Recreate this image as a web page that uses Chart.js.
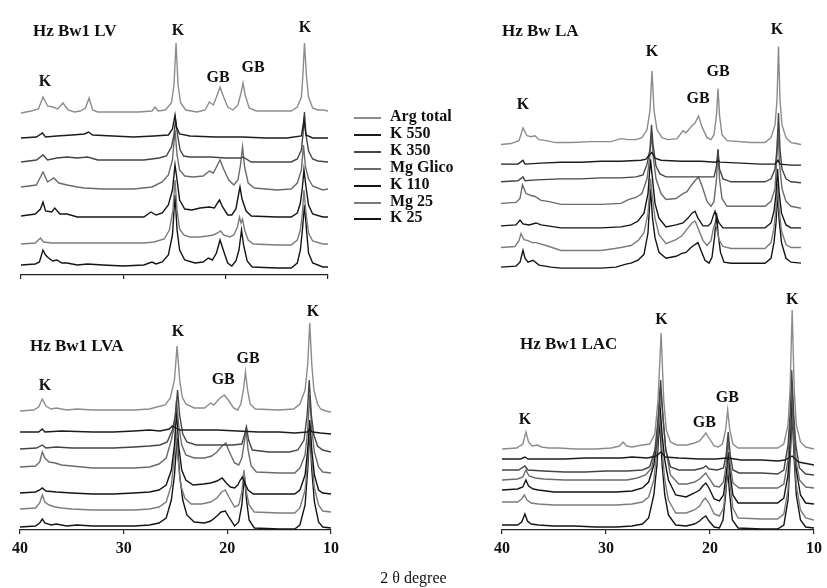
<!DOCTYPE html>
<html>
<head>
<meta charset="utf-8">
<script src="https://cdn.jsdelivr.net/npm/chart.js@4.4.1/dist/chart.umd.min.js"></script>
<style>
  html, body { margin: 0; padding: 0; background: #fff; }
  #wrap { position: relative; width: 827px; height: 588px; overflow: hidden; background: #fff; }
  canvas { position: absolute; }
  .leg { position: absolute; font: bold 16px "Liberation Serif", "DejaVu Serif", serif; color: #111; }
  .legline { position: absolute; height: 0; border-top: 2px solid #333; }
  #xtitle { position: absolute; left: 0; width: 827px; top: 569px; text-align: center; font: 16px "Liberation Serif", serif; color: #111; }
</style>
</head>
<body>
<div id="wrap">
  <canvas id="tl" width="345" height="290" style="left:0px;top:0px"></canvas>
  <canvas id="tr" width="407" height="290" style="left:420px;top:0px"></canvas>
  <canvas id="bl" width="345" height="298" style="left:0px;top:290px"></canvas>
  <canvas id="br" width="407" height="298" style="left:420px;top:290px"></canvas>
  <div id="legend"></div>
  <div id="xtitle">2 θ degree</div>
</div>
<script>
// ---------- series names / colours ----------
const seriesNames = ['Arg total', 'K 550', 'K 350', 'Mg Glico', 'K 110', 'Mg 25', 'K 25'];
const seriesColors = ['#8c8c8c', '#1c1c1c', '#454545', '#6a6a6a', '#141414', '#7c7c7c', '#141414'];
const xTicks = [40, 30, 20, 10];

// ---------- Hz Bw1 LV (top left) : [2θ, offset intensity] ----------
const tlArg = [[40,162],[39,164],[38.3,166],[37.85,178],[37.4,169],[36.9,168],[36.4,166],[35.9,172],[35.4,165],[34.8,163],[34.2,164],[33.7,167],[33.35,177],[33.0,165],[32.5,163],[30,163],[28.5,163],[27.2,164],[26.9,168],[26.6,164],[25.9,165],[25.3,172],[25.05,190],[24.85,232],[24.65,190],[24.4,172],[23.9,165],[22.8,163],[22.0,165],[21.6,173],[21.2,170],[20.9,178],[20.55,188],[20.2,178],[19.8,168],[19.3,165],[18.8,170],[18.5,182],[18.3,192],[18.1,180],[17.7,167],[17.0,164],[15,164],[13.6,164],[13.0,168],[12.6,178],[12.45,200],[12.3,232],[12.1,198],[11.9,178],[11.5,167],[11,165],[10.4,165],[10,164]];
const tlK550 = [[40,137],[38.5,138],[37.9,142],[37.6,138],[36.5,139],[35,140],[33.8,141],[33.4,143],[33,140],[31,139],[29,138],[27,139],[25.6,140],[25.2,146],[24.95,160],[24.8,148],[24.5,141],[23.5,139],[21,138],[19,138],[18.4,138],[16,137],[14,137],[12.6,139],[12.35,155],[12.15,140],[11.5,137],[10,137]];
const tlK350 = [[40,113],[38.5,115],[37.85,120],[37.4,115],[36.5,117],[35.5,118],[34.5,117],[33.5,118],[32.5,115],[30,115],[28,115],[26.5,117],[25.8,119],[25.3,128],[25.05,140],[24.9,155],[24.7,140],[24.45,125],[24.1,119],[23.5,118],[21.5,118],[20,117],[18.5,117],[18.3,118],[17.5,113],[15,113],[13.6,113],[13.0,116],[12.6,125],[12.45,140],[12.3,163],[12.15,140],[11.9,124],[11.5,116],[11,114],[10,113]];
const tlGlico = [[40,88],[38.5,90],[37.85,103],[37.4,93],[36.8,97],[36.3,92],[35.5,90],[34.5,88],[33.8,87],[32,86],[29,86],[27.2,88],[26.2,93],[25.6,100],[25.2,115],[24.95,145],[24.75,120],[24.5,105],[24.0,99],[23.2,98],[22.2,99],[21.6,104],[21.2,102],[20.9,108],[20.55,115],[20.2,106],[19.7,95],[19.2,90],[18.8,95],[18.55,110],[18.35,128],[18.15,108],[17.8,92],[17.2,87],[15,85],[13.6,86],[13.0,92],[12.6,105],[12.4,130],[12.2,108],[11.9,96],[11.5,89],[11,87],[10.5,85],[10,86]];
const tlK110 = [[40,59],[38.6,61],[38.1,66],[37.85,73],[37.6,64],[37.0,63],[36.7,67],[36.2,61],[35.5,61],[34.5,58],[33,58],[30,58],[28,58],[27.3,63],[26.8,60],[26.2,62],[25.6,70],[25.2,85],[24.95,110],[24.75,95],[24.5,75],[24.0,66],[23.3,65],[22.5,67],[21.6,68],[21.1,67],[20.8,72],[20.6,75],[20.3,68],[19.8,60],[19.4,60],[19.0,66],[18.75,80],[18.6,88],[18.4,76],[18.0,64],[17.5,59],[15,58],[13.6,58],[13.0,62],[12.7,72],[12.5,88],[12.35,105],[12.15,88],[11.9,70],[11.5,61],[10.5,58],[10,58]];
const tlMg25 = [[40,31],[38.6,32],[38.1,37],[37.8,33],[37,32],[35,32],[32,32],[30,32],[28,32],[27,33],[26,36],[25.5,45],[25.15,65],[24.95,95],[24.75,65],[24.5,46],[24.1,40],[23.5,38],[22.5,38],[21.8,39],[21.2,40],[20.8,42],[20.5,44],[20.2,40],[19.6,38],[19.2,40],[18.85,48],[18.65,58],[18.5,52],[18.35,56],[18.15,45],[17.8,35],[17.3,31],[15,30],[13.6,30],[13.0,35],[12.7,45],[12.5,62],[12.35,85],[12.15,62],[11.9,42],[11.5,34],[10.5,31],[10,31]];
const tlK25 = [[40,10],[38.6,11],[38.2,13],[37.85,25],[37.6,20],[37.3,17],[36.9,14],[36.5,15],[36,12],[35.5,12],[34.5,10],[33.5,11],[32,10],[30,9],[28,10],[27.2,13],[26.8,11],[26.2,13],[25.6,20],[25.2,40],[24.95,80],[24.75,45],[24.5,25],[24,15],[23,12],[22.2,13],[21.7,17],[21.3,15],[20.9,22],[20.55,35],[20.2,24],[19.8,12],[19.4,9],[19,14],[18.7,25],[18.45,45],[18.25,30],[17.9,14],[17.4,8],[15,7],[13.6,7],[13.0,12],[12.7,25],[12.5,45],[12.3,70],[12.1,45],[11.9,22],[11.5,12],[10.5,8],[10,8]];

// ---------- Hz Bw LA (top right) ----------
const trArg = [[40,130],[39,131],[38.2,134],[37.8,147],[37.4,139],[37.0,138],[36.6,139],[36.2,135],[35.5,134],[34.5,132],[33,132],[31,133],[29,133],[28,136],[27.3,135],[26.5,135],[25.9,137],[25.4,145],[25.1,165],[24.9,205],[24.7,165],[24.4,145],[23.9,137],[23.3,135],[22.4,136],[21.8,144],[21.5,142],[21.0,148],[20.6,152],[20.25,159],[19.9,148],[19.4,137],[19.0,135],[18.7,140],[18.45,160],[18.3,187],[18.15,160],[17.9,140],[17.4,134],[15,132],[13.6,132],[13.0,137],[12.6,150],[12.4,175],[12.25,230],[12.1,175],[11.9,150],[11.5,137],[11,132],[10.5,131],[10,130]];
const trK550 = [[40,110],[38.3,110],[37.8,114],[37.6,110],[36,111],[34,112],[32,112],[30,113],[28,113],[26,114],[25.5,115],[25.2,119],[24.9,122],[24.6,116],[24,114],[22,113],[20,113],[18.5,112],[18.3,114],[18.1,112],[16,111],[14,110],[12.6,110],[12.3,114],[12.1,110],[11,109],[10,109]];
const trK350 = [[40,92],[38.3,93],[37.8,97],[37.6,93],[36.5,94],[34,95],[32,95],[30,96],[28,96],[26.5,97],[25.8,99],[25.4,110],[25.1,125],[24.95,150],[24.8,130],[24.5,108],[24.1,100],[23.5,97],[21,97],[19.5,97],[18.7,97],[18.45,108],[18.3,125],[18.15,105],[17.8,95],[17,92],[15,92],[13.6,92],[13.0,95],[12.6,105],[12.4,125],[12.25,162],[12.1,125],[11.9,105],[11.5,95],[11,92],[10,91]];
const trGlico = [[40,70],[38.5,71],[38.1,75],[37.85,89],[37.5,80],[37.0,78],[36.6,77],[36.0,73],[35.3,72],[34,69],[32,69],[30,69],[28,70],[27.2,74],[26.5,76],[25.9,80],[25.4,95],[25.15,115],[24.95,140],[24.75,115],[24.5,95],[24.0,80],[23.5,74],[22.5,75],[21.8,80],[21.4,82],[21.0,88],[20.6,93],[20.25,97],[19.9,88],[19.4,72],[19.0,67],[18.7,72],[18.45,95],[18.3,125],[18.15,95],[17.9,75],[17.4,67],[15,67],[13.6,67],[13.0,72],[12.6,85],[12.45,110],[12.3,145],[12.15,110],[11.9,85],[11.5,72],[11,67],[10.5,66],[10,65]];
const trK110 = [[40,47],[38.5,48],[38.1,53],[37.8,49],[37.2,48],[36.5,50],[36,48],[34,45],[32,45],[30,45],[28,46],[27,48],[26.3,52],[25.7,60],[25.3,80],[25.05,115],[24.85,95],[24.6,70],[24.2,55],[23.5,46],[22.5,48],[21.8,50],[21.3,55],[20.9,60],[20.6,62],[20.3,55],[19.8,47],[19.3,47],[19.0,50],[18.75,58],[18.6,62],[18.45,57],[18.2,50],[17.8,45],[15,45],[13.6,45],[13.0,50],[12.7,62],[12.5,80],[12.35,105],[12.2,82],[11.95,60],[11.5,48],[11,45],[10,45]];
const trMg25 = [[40,25],[38.6,26],[38.2,32],[38.0,39],[37.7,33],[37.3,32],[36.9,30],[36.5,30],[35.5,27],[34,22],[32,22],[30,22],[28.6,24],[28,25],[27,27],[26.3,32],[25.7,40],[25.3,60],[25.05,95],[24.85,75],[24.6,55],[24.2,38],[23.5,29],[22.5,33],[21.9,37],[21.3,45],[20.9,50],[20.6,52],[20.3,45],[19.8,32],[19.4,27],[19.0,32],[18.75,45],[18.6,50],[18.45,45],[18.2,33],[17.8,26],[17,24],[15,24],[13.6,24],[13.0,30],[12.7,45],[12.5,65],[12.35,90],[12.2,65],[11.95,42],[11.5,28],[11,25],[10,25]];
const trK25 = [[40,5],[38.5,6],[38.1,10],[37.8,22],[37.6,14],[37.3,10],[36.8,12],[36.2,7],[35,5],[34,4],[32,4],[30,4],[28.5,5],[27.5,8],[27,9],[26.3,12],[25.7,18],[25.3,40],[25.05,85],[24.85,55],[24.6,35],[24.2,20],[23.5,14],[22.5,16],[21.9,19],[21.5,20],[21.0,25],[20.6,28],[20.3,30],[20.0,22],[19.6,12],[19.2,9],[18.9,15],[18.65,35],[18.45,60],[18.3,40],[18.05,20],[17.7,10],[17,9],[15,9],[13.6,9],[13.0,14],[12.7,30],[12.5,50],[12.35,80],[12.2,55],[11.95,30],[11.5,14],[11,10],[10,9]];

// ---------- Hz Bw1 LVA (bottom left) ----------
const blArg = [[40,119],[38.7,120],[38.2,123],[37.85,131],[37.5,124],[37.0,121],[36.5,122],[35.5,120],[34.5,121],[33,120],[31,120],[29,120],[27.5,121],[26.8,123],[26,125],[25.5,132],[25.1,150],[24.85,184],[24.6,150],[24.35,133],[24.0,126],[23.2,122],[22.2,122],[21.6,127],[21.3,125],[20.8,131],[20.3,135],[19.9,130],[19.4,122],[19.0,120],[18.7,126],[18.45,140],[18.25,158],[18.05,140],[17.8,126],[17.3,121],[15,120],[13.6,121],[13.0,126],[12.5,140],[12.25,165],[12.05,207],[11.85,165],[11.65,140],[11.3,126],[11,121],[10.5,119],[10,118]];
const blK550 = [[40,98],[38.2,98],[37.85,101],[37.6,98],[36,99],[33,98],[31,98],[29,99],[27.5,100],[26.5,99],[25.6,101],[25.3,104],[25.0,102],[24.6,100],[23,100],[21,100],[19,99],[17,98],[15,98],[13.5,97],[12.3,98],[12.05,101],[11.8,98],[11,97],[10,96]];
const blK350 = [[40,81],[38.4,82],[37.85,85],[37.5,82],[36.5,83],[35,82],[33,82],[31,82],[29,83],[27.5,84],[26.5,85],[25.8,88],[25.3,100],[25.0,115],[24.8,140],[24.6,115],[24.3,96],[23.9,88],[23,85],[21,85],[19.5,85],[18.6,86],[18.35,95],[18.15,103],[17.95,90],[17.6,80],[16,78],[14,78],[13.2,80],[12.6,90],[12.3,115],[12.1,150],[11.9,115],[11.65,95],[11.3,84],[10.8,80],[10,78]];
const blGlico = [[40,63],[38.5,64],[38.1,68],[37.85,78],[37.6,72],[37.2,68],[36.6,67],[36,65],[35,64],[33,62],[31,62],[29,62],[27.5,63],[26.6,66],[25.9,72],[25.4,90],[25.1,105],[24.9,130],[24.7,105],[24.4,85],[24.0,75],[23.2,72],[22.2,72],[21.5,74],[21.0,78],[20.6,83],[20.15,87],[19.8,78],[19.3,67],[18.9,65],[18.6,72],[18.4,85],[18.2,100],[18.0,80],[17.7,64],[17.2,58],[15,57],[13.5,57],[13.0,62],[12.5,75],[12.25,100],[12.05,135],[11.85,100],[11.6,78],[11.2,63],[10.8,58],[10,57]];
const blK110 = [[40,37],[38.5,38],[38.1,40],[37.85,42],[37.5,39],[36.5,38],[35,37],[33,36],[31,36],[29,37],[27.5,38],[26.6,40],[25.9,45],[25.4,60],[25.1,85],[24.9,120],[24.7,85],[24.4,60],[24.0,50],[23.3,45],[22.3,46],[21.6,47],[21.0,49],[20.5,52],[20.1,47],[19.7,43],[19.3,42],[19.0,45],[18.75,50],[18.55,53],[18.35,48],[18.0,40],[17.5,36],[15,36],[13.5,36],[13.0,40],[12.5,55],[12.25,80],[12.05,110],[11.85,80],[11.6,55],[11.2,40],[10.8,37],[10,36]];
const blMg25 = [[40,21],[38.5,22],[38.1,27],[37.85,35],[37.6,28],[37.2,25],[36.6,23],[36,22],[35,21],[33,20],[31,20],[29,20],[27.5,21],[26.6,23],[25.9,28],[25.4,45],[25.15,70],[24.95,100],[24.75,70],[24.5,45],[24.1,32],[23.5,26],[22.5,26],[21.6,28],[21.0,32],[20.55,38],[20.2,40],[19.8,32],[19.3,23],[18.9,25],[18.6,38],[18.4,60],[18.2,40],[17.9,25],[17.4,18],[15,17],[13.5,17],[13.0,22],[12.5,40],[12.25,70],[12.05,105],[11.85,70],[11.6,42],[11.2,25],[10.8,19],[10,18]];
const blK25 = [[40,3],[38.5,4],[38.1,7],[37.85,11],[37.6,7],[37.0,5],[36.5,6],[35.5,4],[34.5,5],[33,4],[31,4],[29,4],[27.5,5],[26.6,7],[25.9,12],[25.4,30],[25.1,55],[24.85,92],[24.6,55],[24.3,30],[23.9,15],[23.2,8],[22.2,7],[21.6,9],[21.0,14],[20.6,18],[20.2,19],[19.8,12],[19.3,4],[18.9,8],[18.6,25],[18.35,54],[18.15,30],[17.9,10],[17.4,2],[15,1],[13.5,1],[13.0,5],[12.5,25],[12.25,60],[12.05,100],[11.85,60],[11.6,28],[11.2,8],[10.8,3],[10,2]];

// ---------- Hz Bw1 LAC (bottom right) ----------
const brArg = [[40,81],[38.6,82],[38.0,86],[37.7,98],[37.45,88],[37.1,84],[36.6,85],[36.2,83],[35.5,82],[34.5,82],[33,81],[31,81],[29.5,82],[28.7,84],[28.35,88],[28.0,84],[27.5,83],[26.5,85],[25.8,86],[25.3,96],[25.0,130],[24.7,197],[24.45,130],[24.2,100],[23.8,88],[23.2,85],[22.2,85],[21.5,87],[21.0,89],[20.7,93],[20.4,97],[20.1,92],[19.6,84],[19.2,83],[18.8,86],[18.5,100],[18.3,120],[18.1,100],[17.8,86],[17.3,82],[15,82],[13.5,82],[12.9,86],[12.5,105],[12.3,140],[12.1,220],[11.9,140],[11.7,105],[11.3,88],[10.8,83],[10,81]];
const brK550 = [[40,71],[38.2,71],[37.8,73],[37.5,71],[36,71],[34,71],[32,72],[30,72],[28.5,72],[27.5,73],[26,72],[25.2,74],[24.7,78],[24.3,73],[23,72],[21,71],[19.5,71],[18.3,72],[17,70],[15,70],[13.5,69],[12.8,70],[12.1,74],[11.5,68],[11,67],[10.5,66],[10,65]];
const brK350 = [[40,60],[38.4,60],[37.8,64],[37.5,60],[36,59],[34,58],[32,58],[30,59],[28,59],[26.5,60],[25.8,63],[25.3,80],[25.0,110],[24.75,150],[24.5,110],[24.25,80],[23.8,63],[23,60],[21.5,60],[20.7,62],[20.4,64],[20.1,61],[19.3,60],[18.7,62],[18.45,75],[18.25,98],[18.05,75],[17.8,60],[17.2,57],[15,57],[13.5,56],[12.9,60],[12.5,85],[12.3,115],[12.15,160],[11.95,115],[11.75,85],[11.4,62],[10.8,56],[10,55]];
const brGlico = [[40,50],[38.5,51],[38.0,53],[37.7,60],[37.4,54],[36.8,52],[36,51],[34,50],[32,50],[30,50],[28,50],[27,52],[26.2,55],[25.6,62],[25.2,85],[24.95,110],[24.75,140],[24.5,110],[24.25,80],[23.8,55],[23.0,46],[22.2,46],[21.5,48],[21.0,51],[20.7,54],[20.4,57],[20.1,52],[19.6,44],[19.1,43],[18.7,48],[18.45,65],[18.25,90],[18.05,65],[17.8,47],[17.2,42],[15,42],[13.5,42],[12.9,46],[12.5,70],[12.3,105],[12.15,148],[11.95,105],[11.75,70],[11.4,50],[10.8,43],[10,42]];
const brK110 = [[40,40],[38.5,41],[38.0,43],[37.7,50],[37.45,44],[37.0,41],[36.5,40],[35,38],[33,38],[31,38],[29,38],[27.5,39],[26.5,42],[25.9,48],[25.4,65],[25.1,90],[24.85,130],[24.6,95],[24.35,70],[24.0,50],[23.3,35],[22.3,33],[21.5,37],[21.0,40],[20.7,44],[20.4,47],[20.1,42],[19.6,31],[19.1,29],[18.7,35],[18.45,55],[18.25,78],[18.05,55],[17.8,35],[17.3,27],[15,27],[13.5,27],[12.9,32],[12.5,55],[12.3,90],[12.1,138],[11.9,95],[11.7,60],[11.3,35],[10.8,27],[10,26]];
const brMg25 = [[40,28],[38.5,28],[38.1,31],[37.85,35],[37.6,30],[37.2,27],[36.5,26],[35,25],[33,25],[31,25],[29,25],[27.5,26],[26.5,28],[25.9,33],[25.4,50],[25.1,80],[24.85,118],[24.6,80],[24.35,50],[24.0,30],[23.3,17],[22.3,17],[21.5,20],[21.0,24],[20.7,29],[20.45,32],[20.1,27],[19.6,16],[19.1,14],[18.7,22],[18.45,45],[18.25,68],[18.05,45],[17.8,22],[17.3,12],[15,11],[13.5,11],[12.9,16],[12.5,40],[12.3,80],[12.1,128],[11.9,80],[11.7,45],[11.3,20],[10.8,12],[10,10]];
const brK25 = [[40,5],[38.5,5],[38.1,8],[37.8,16],[37.55,9],[37.2,6],[36.5,5],[35,4],[33,4],[31,3],[29,3],[27.5,4],[26.5,6],[25.9,12],[25.4,35],[25.1,65],[24.85,110],[24.6,65],[24.35,35],[24.0,15],[23.3,5],[22.3,4],[21.5,6],[21.0,9],[20.7,12],[20.4,14],[20.1,9],[19.6,3],[19.1,2],[18.75,10],[18.5,35],[18.3,60],[18.1,35],[17.85,10],[17.3,2],[15,1],[13.5,1],[12.9,5],[12.5,30],[12.3,70],[12.1,118],[11.9,70],[11.7,35],[11.3,10],[10.8,3],[10,2]];

// ---------- peak / panel labels : [text, 2θ, intensity, align, size] ----------
const tlLabels = [['Hz Bw1 LV',38.83,243,'left',17],['K',37.65,193],['K',24.65,244],['GB',20.74,197],['GB',17.32,207],['K',12.24,247]];
const trLabels = [['Hz Bw LA',39.9,245,'left',17],['K',37.8,170],['K',24.9,224],['GB',20.3,177],['GB',18.3,204],['K',12.4,247]];
const blLabels = [['Hz Bw1 LVA',39.04,183,'left',17],['K',37.6,144],['K',24.76,198],['GB',20.4,150],['GB',18.0,171],['K',11.75,218]];
const brLabels = [['Hz Bw1 LAC',38.27,185,'left',17],['K',37.8,110],['K',24.66,210],['GB',20.54,107],['GB',18.33,132],['K',12.1,230]];

// ---------- drawing ----------
const serif = '"Liberation Serif", "DejaVu Serif", serif';
const labelPlugin = {
  id: 'peakLabels',
  afterDatasetsDraw(chart, args, opts) {
    const {ctx} = chart; const xs = chart.scales.x, ys = chart.scales.y;
    ctx.save();
    ctx.fillStyle = '#111';
    ctx.textBaseline = 'middle';
    for (const it of opts.items) {
      const [t, tx, ty, align, size] = it;
      ctx.font = 'bold ' + (size || 16) + 'px ' + serif;
      ctx.textAlign = align || 'center';
      ctx.fillText(t, xs.getPixelForValue(tx), ys.getPixelForValue(ty));
    }
    ctx.restore();
  }
};

function panel(id, traces, labels, cfg) {
  const xScale = {
    type: 'linear', min: 10, max: 40, reverse: true,
    display: cfg.axis !== 'none',
    afterBuildTicks: s => { s.ticks = xTicks.map(v => ({value: v})); },
    afterFit: s => { s.height = cfg.axis === 'labels' ? 30 : 5; },
    border: { display: true, color: '#222', width: 1.2 },
    grid: { drawOnChartArea: false, drawTicks: true, tickLength: 4, color: '#222', lineWidth: 1.2 },
    ticks: {
      display: cfg.axis === 'labels', padding: 5, color: '#111',
      font: { family: serif, size: 16, weight: 'bold' },
      callback: v => String(v), maxRotation: 0
    }
  };
  return new Chart(document.getElementById(id), {
    type: 'line',
    data: {
      datasets: traces.map((t, i) => ({
        label: seriesNames[i], data: t, borderColor: seriesColors[i],
        borderWidth: 1.4, pointRadius: 0, tension: 0, fill: false
      }))
    },
    options: {
      responsive: false, animation: false, devicePixelRatio: 1,
      layout: { padding: cfg.pad },
      scales: { x: xScale, y: { type: 'linear', min: 0, max: cfg.ymax, display: false } },
      plugins: { legend: { display: false }, tooltip: { enabled: false }, peakLabels: { items: labels } }
    },
    plugins: [labelPlugin]
  });
}

panel('tl', [tlArg, tlK550, tlK350, tlGlico, tlK110, tlMg25, tlK25], tlLabels,
  { axis: 'line', pad: {left: 21, right: 17, top: 20, bottom: 10}, ymax: 255 });
panel('tr', [trArg, trK550, trK350, trGlico, trK110, trMg25, trK25], trLabels,
  { axis: 'none', pad: {left: 81, right: 26, top: 20, bottom: 13}, ymax: 257 });
panel('bl', [blArg, blK550, blK350, blGlico, blK110, blMg25, blK25], blLabels,
  { axis: 'labels', pad: {left: 20, right: 14, top: 0, bottom: 28}, ymax: 240 });
panel('br', [brArg, brK550, brK350, brGlico, brK110, brMg25, brK25], brLabels,
  { axis: 'labels', pad: {left: 82, right: 12, top: 0, bottom: 28}, ymax: 240 });

// ---------- legend ----------
const legRows = [117, 134, 151, 168, 185, 202, 218];
const leg = document.getElementById('legend');
seriesNames.forEach((n, i) => {
  const ln = document.createElement('div');
  ln.className = 'legline';
  ln.style.left = '354px'; ln.style.width = '27px'; ln.style.top = legRows[i] + 'px';
  ln.style.borderTopColor = seriesColors[i];
  leg.appendChild(ln);
  const tx = document.createElement('div');
  tx.className = 'leg';
  tx.style.left = '390px'; tx.style.top = (legRows[i] - 10) + 'px';
  tx.textContent = n;
  leg.appendChild(tx);
});
</script>
</body>
</html>
